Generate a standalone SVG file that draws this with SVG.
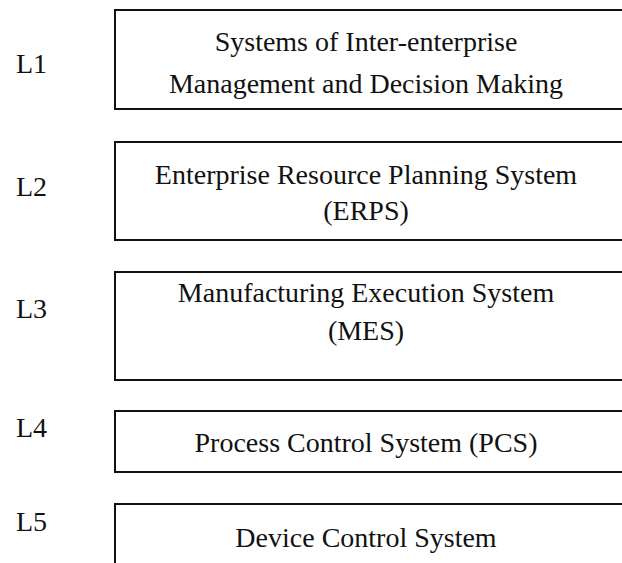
<svg xmlns="http://www.w3.org/2000/svg" width="622" height="563" viewBox="0 0 622 563">
<style>
  .box { fill: #ffffff; stroke: #111111; stroke-width: 2; }
  .t { font-family: "Liberation Serif", "Times New Roman", serif; font-size: 28px; fill: #111111; text-anchor: middle; }
  .lv { font-family: "Liberation Serif", "Times New Roman", serif; font-size: 28px; fill: #111111; text-anchor: start; }
</style>
<rect x="0" y="0" width="622" height="563" fill="#ffffff"/>
<g id="L1">
  <text class="lv" x="16" y="73">L1</text>
  <rect class="box" x="115" y="10" width="530" height="99"/>
  <text class="t" x="366" y="51">Systems of Inter-enterprise</text>
  <text class="t" x="366" y="93">Management and Decision Making</text>
</g>
<g id="L2">
  <text class="lv" x="16" y="196">L2</text>
  <rect class="box" x="115" y="142" width="530" height="98"/>
  <text class="t" x="366" y="184">Enterprise Resource Planning System</text>
  <text class="t" x="366" y="220">(ERPS)</text>
</g>
<g id="L3">
  <text class="lv" x="16" y="318">L3</text>
  <rect class="box" x="115" y="272" width="530" height="108"/>
  <text class="t" x="366" y="302">Manufacturing Execution System</text>
  <text class="t" x="366" y="340">(MES)</text>
</g>
<g id="L4">
  <text class="lv" x="16" y="437">L4</text>
  <rect class="box" x="115" y="411" width="530" height="61"/>
  <text class="t" x="366" y="452">Process Control System (PCS)</text>
</g>
<g id="L5">
  <text class="lv" x="16" y="531">L5</text>
  <rect class="box" x="115" y="504" width="530" height="80"/>
  <text class="t" x="366" y="547">Device Control System</text>
</g>
<g id="connectors"></g>
</svg>
